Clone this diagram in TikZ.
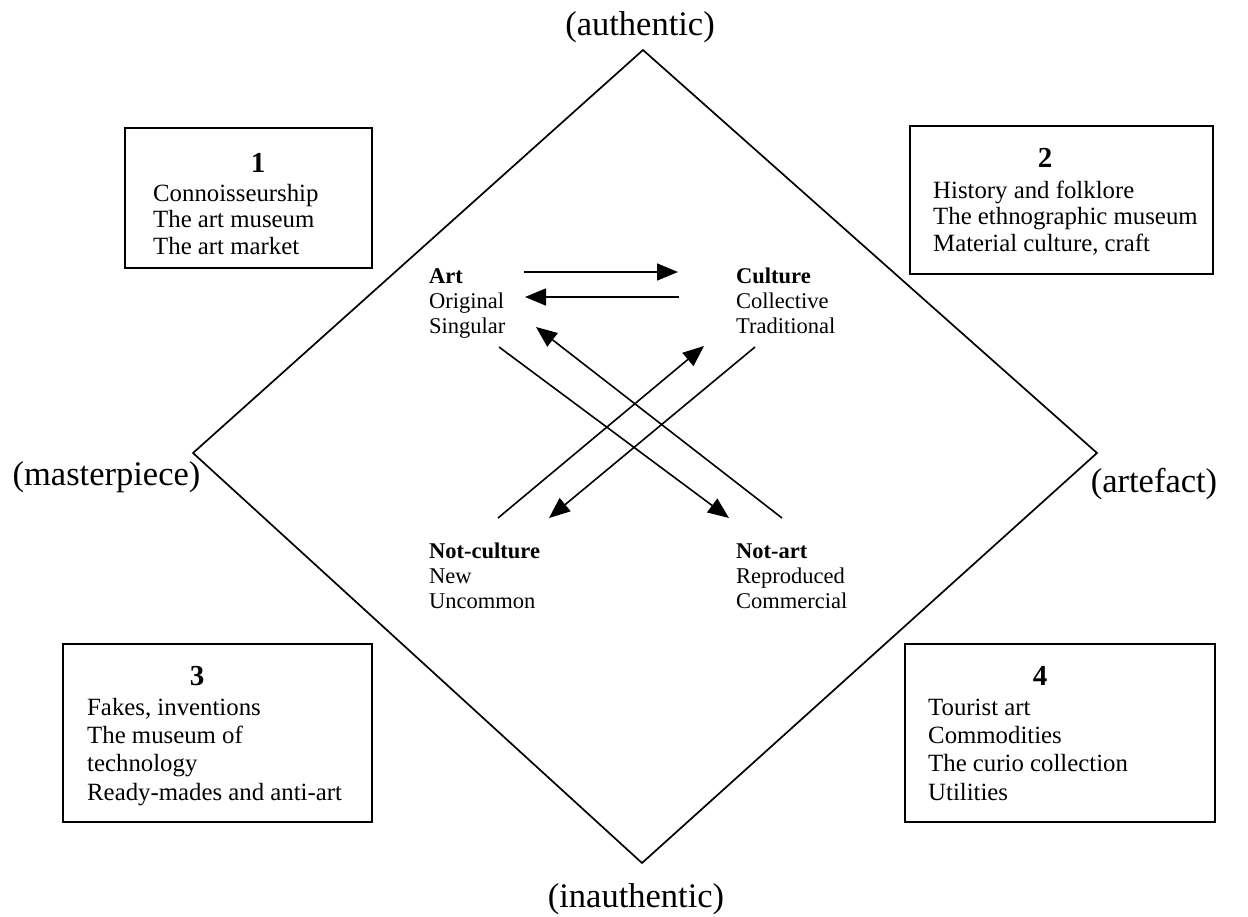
\documentclass[tikz,border=0pt]{standalone}
\usepackage{fontspec}
\setmainfont{Liberation Serif}
\usetikzlibrary{arrows.meta}
\begin{document}
\begin{tikzpicture}[x=1pt,y=-1pt,
  pole/.style={font=\fontsize{34.5}{37}\selectfont, inner sep=0, anchor=base},
  frame/.style={draw, line width=2pt, inner sep=0},
  num/.style={font=\fontsize{29}{31}\selectfont\bfseries, anchor=base, inner sep=0},
  boxtxt/.style={font=\fontsize{24.8}{26.5}\selectfont, align=left, anchor=base west, inner sep=0},
  boxtxtb/.style={font=\fontsize{24.8}{28.3}\selectfont, align=left, anchor=base west, inner sep=0},
  cattxt/.style={font=\fontsize{22.5}{25}\selectfont, align=left, anchor=base west, inner sep=0},
  edge/.style={line width=1.7pt},
  arr/.style={line width=1.6pt, -{Triangle[length=21pt,width=17pt]}}
]
\useasboundingbox (0,0) rectangle (1248,916);

% diamond
\coordinate (T) at (643,50);
\coordinate (R) at (1097,453);
\coordinate (B) at (642,863);
\coordinate (L) at (193,453);
\draw[edge] (T) -- (R) -- (B) -- (L) -- cycle;

% pole labels
\node[pole] (authentic) at (640,35) {(authentic)};
\node[pole] (masterpiece) at (106.5,485) {(masterpiece)};
\node[pole] (artefact) at (1154,492) {(artefact)};
\node[pole] (inauthentic) at (636,907) {(inauthentic)};

% boxes
\node[frame, minimum width=247pt, minimum height=140pt] (box1) at (248.5,198) {};
\node[frame, minimum width=303pt, minimum height=148pt] (box2) at (1061.5,200) {};
\node[frame, minimum width=309pt, minimum height=178pt] (box3) at (217.5,733) {};
\node[frame, minimum width=310pt, minimum height=178pt] (box4) at (1060,733) {};

\node[num] (n1) at (258,172) {1};
\node[num] (n2) at (1045,167) {2};
\node[num] (n3) at (197,685) {3};
\node[num] (n4) at (1040,685) {4};

% (multi-line nodes: base anchor = baseline of the last line)
\node[boxtxt] (t1) at (153,254) {Connoisseurship\\The art museum\\The art market};
\node[boxtxt] (t2) at (933,251) {History and folklore\\The ethnographic museum\\Material culture, craft};
\node[boxtxtb] (t3) at (87,800) {Fakes, inventions\\The museum of\\technology\\Ready-mades and anti-art};
\node[boxtxtb] (t4) at (928,800) {Tourist art\\Commodities\\The curio collection\\Utilities};

% categories
\node[cattxt] (art) at (429,333) {\textbf{Art}\\Original\\Singular};
\node[cattxt] (culture) at (736,333) {\textbf{Culture}\\Collective\\Traditional};
\node[cattxt] (notculture) at (429,608) {\textbf{Not-culture}\\New\\Uncommon};
\node[cattxt] (notart) at (736,608) {\textbf{Not-art}\\Reproduced\\Commercial};

% arrow end points
\coordinate (a1s) at (524,272);  \coordinate (a1e) at (678,272);
\coordinate (a2s) at (679,297);  \coordinate (a2e) at (525,297);
\coordinate (a3s) at (499,347);  \coordinate (a3e) at (729,518);
\coordinate (a4s) at (782,518);  \coordinate (a4e) at (536,327);
\coordinate (a5s) at (498,518);  \coordinate (a5e) at (704,346);
\coordinate (a6s) at (755,347);  \coordinate (a6e) at (549,518);

\draw[arr] (a1s) -- (a1e);
\draw[arr] (a2s) -- (a2e);
\draw[arr] (a3s) -- (a3e);
\draw[arr] (a4s) -- (a4e);
\draw[arr] (a5s) -- (a5e);
\draw[arr] (a6s) -- (a6e);
\end{tikzpicture}
\end{document}
